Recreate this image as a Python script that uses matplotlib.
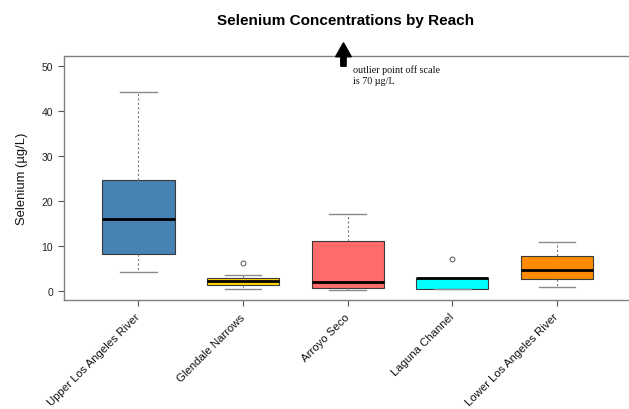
import matplotlib
matplotlib.use("Agg")
import matplotlib.pyplot as plt

plt.rcParams['font.family'] = ['Liberation Sans', 'DejaVu Sans']

reaches = ["Upper Los Angeles River", "Glendale Narrows", "Arroyo Seco",
           "Laguna Channel", "Lower Los Angeles River"]
whisker_low = [4.4, 0.45, 0.2, 0.45, 0.9]
q1 = [8.35, 1.35, 0.8, 0.45, 2.75]
median = [16.1, 2.2, 2.1, 2.85, 4.75]
q3 = [24.8, 2.9, 11.1, 3.0, 7.85]
whisker_high = [44.2, 3.6, 17.2, 3.0, 11.0]
outliers = [[], [6.2], [], [7.1], []]
box_colors = ["#4682B4", "#FFD700", "#FF6A6A", "#00FFFF", "#FF8C00"]
y_ticks = [0, 10, 20, 30, 40, 50]
off_scale_value = 70

stats = []
for i, name in enumerate(reaches):
    stats.append(dict(label=name, whislo=whisker_low[i], q1=q1[i], med=median[i],
                      q3=q3[i], whishi=whisker_high[i], fliers=outliers[i]))

fig = plt.figure(figsize=(6.29, 4.10), dpi=100)
ax = fig.add_axes([64 / 629, 1 - 301 / 410, 1 - 64 / 629, (301 - 57.3) / 410])

positions = list(range(1, len(reaches) + 1))
bp = ax.bxp(stats, positions=positions, widths=0.69, patch_artist=True,
            boxprops=dict(edgecolor="#3a3a3a", linewidth=0.8),
            medianprops=dict(color="black", linewidth=2.0),
            whiskerprops=dict(color="#7a7a7a", linestyle=(0, (2, 2)), linewidth=0.8),
            capprops=dict(color="#8a8a8a", linewidth=1.0),
            flierprops=dict(marker="o", markersize=3.5, markerfacecolor="none",
                            markeredgecolor="#555555", markeredgewidth=0.7),
            capwidths=0.35)
for patch, c in zip(bp["boxes"], box_colors):
    patch.set_facecolor(c)

ax.set_xlim(0.288, 5.69)
ax.set_ylim(-1.93, 52.2)
ax.set_yticks(y_ticks)
ax.set_yticklabels([str(t) for t in y_ticks], fontsize=7.5)
ax.set_xticks(positions)
ax.set_xticklabels(reaches, rotation=45, ha="right", va="center",
                   rotation_mode="anchor", fontsize=8.2)
ax.tick_params(axis="both", colors="#555555", length=4, width=0.8)
ax.tick_params(axis="x", labelcolor="#111111", pad=6.8)
ax.tick_params(axis="y", labelcolor="#222222", pad=4)
for s in ["left", "bottom", "top"]:
    ax.spines[s].set_color("#808080")
    ax.spines[s].set_linewidth(1.0)
ax.spines["right"].set_visible(False)

ax.set_ylabel("Selenium (µg/L)", fontsize=9.4, color="#111111")
ax.yaxis.set_label_coords(-0.064, 0.5)

# arrow pointing to the off-scale outlier of Arroyo Seco
ax.arrow(2.96, 50.0, 0, 5.2, width=0.051, head_width=0.15, head_length=3.1,
         length_includes_head=True, color="black", clip_on=False, zorder=5)
ax.text(3.05, 50.4, "outlier point off scale\nis %d µg/L" % off_scale_value,
        family=["Liberation Serif", "DejaVu Serif"], fontsize=7.3, va="top", ha="left",
        linespacing=1.25, color="#111111")

fig.text(345.5 / 629, 1 - 21 / 410, "Selenium Concentrations by Reach",
         ha="center", va="center", fontsize=11, fontweight="bold")

fig.savefig("out.png", dpi=100)
